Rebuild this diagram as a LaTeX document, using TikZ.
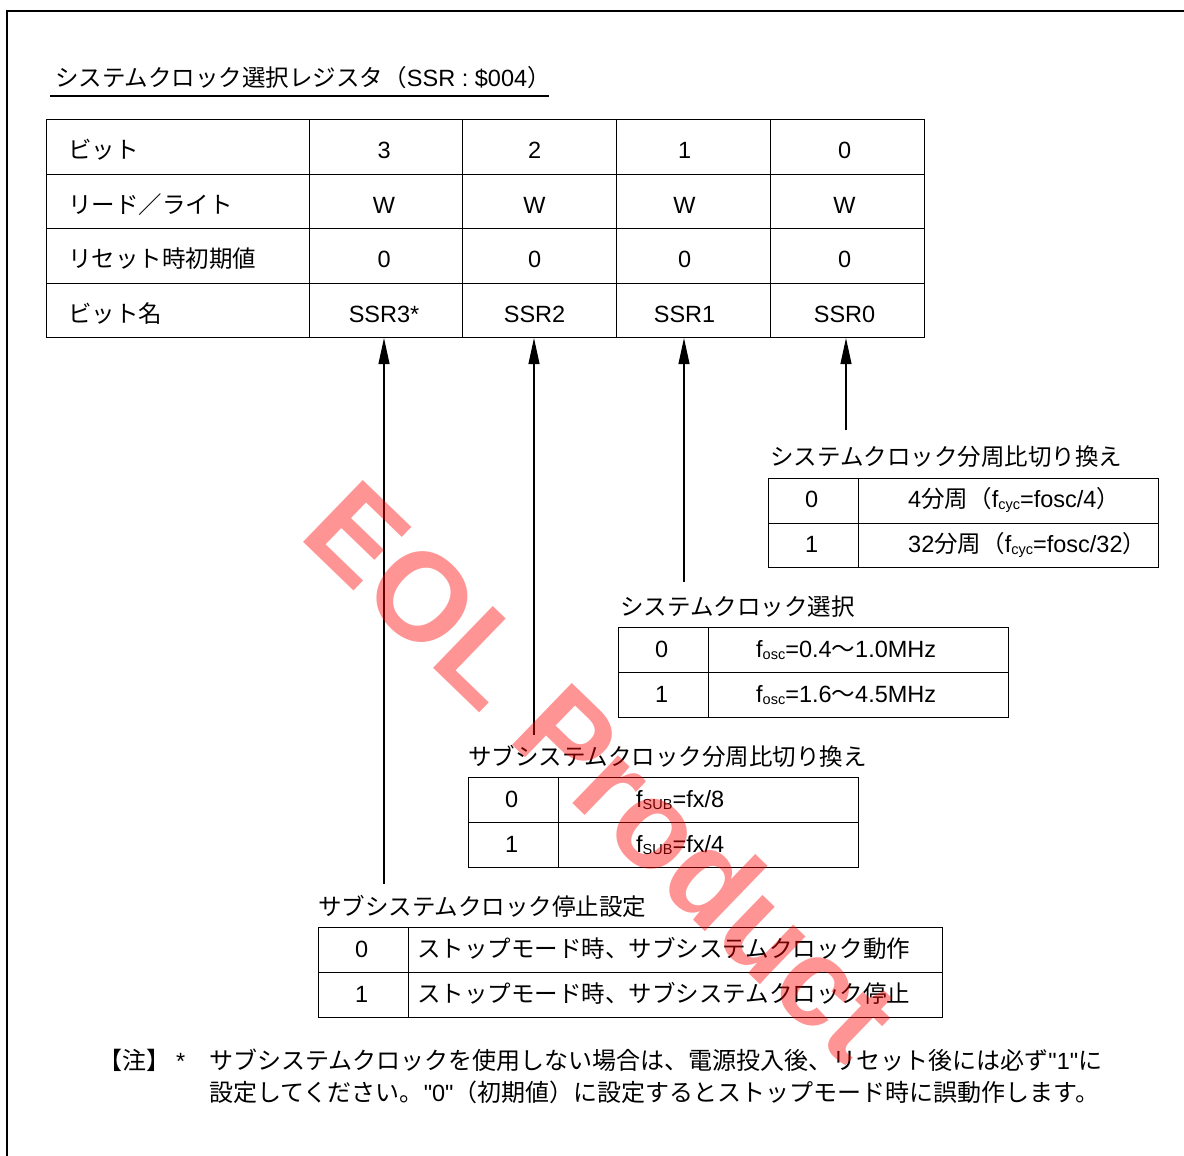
\documentclass[tikz,border=0pt]{standalone}
\usepackage{fontspec}
\setmainfont{Liberation Sans}
\newfontfamily\jpfont{Noto Sans CJK JP}
\newfontfamily\qfont{Liberation Sans}
\usetikzlibrary{arrows.meta}
\newcommand\jt[1]{{\jpfont\fontsize{23.5}{28}\selectfont #1}}
\newcommand\jft[1]{{\jpfont\fontsize{24}{28}\selectfont #1}}
\newcommand\subtx[1]{\raisebox{-2pt}{\fontsize{14.5}{14.5}\selectfont #1}}
\newcommand\qq{{\qfont"}}
\tikzset{
  base/.style={font=\fontsize{23.5}{28}\selectfont, inner sep=0},
  cell/.style={draw, line width=1.1pt, anchor=north west, inner sep=0},
  mtx/.style={base, text height=24pt, text depth=0pt},
  stx/.style={base, text height=14pt, text depth=0pt},
  ttl/.style={base, anchor=base west},
  arr/.style={line width=1.1pt, -{Triangle[length=26pt,width=11pt]}},
  wm/.style={text=red, text opacity=0.42, inner sep=0, rotate=-44,
    font=\bfseries\fontsize{125}{125}\selectfont},
}
\begin{document}
\begin{tikzpicture}[x=1pt,y=-1pt]
\useasboundingbox (0,0) rectangle (1184,1156);
% frame
\coordinate (bl) at (7,1156);
\coordinate (tl) at (7,11);
\coordinate (tr) at (1184,11);
\draw[line width=2.8pt] (bl) -- (tl) -- (tr);
% title
\node[ttl] (title) at (55,87) {\jt{システムクロック選択レジスタ（}SSR : \$004\jt{）}};
\coordinate (ul1) at (50,96);
\coordinate (ul2) at (549,96);
\draw[line width=1.1pt] (ul1) -- (ul2);
% main table
\foreach \r/\y in {1/119,2/173.5,3/228,4/282.5}{
  \node[cell, minimum width=263pt, minimum height=54.5pt] (mL\r) at (46,\y) {};
  \foreach \c/\x/\w in {3/309/153,2/462/154,1/616/154,0/770/154}
    \node[cell, minimum width=\w pt, minimum height=54.5pt] (m\r b\c) at (\x,\y) {};
}
\node[mtx, anchor=west] (lb1) at ([xshift=22pt]mL1.west) {\jt{ビット}};
\node[mtx, anchor=west] (lb2) at ([xshift=22pt]mL2.west) {\jt{リード／ライト}};
\node[mtx, anchor=west] (lb3) at ([xshift=22pt]mL3.west) {\jt{リセット時初期値}};
\node[mtx, anchor=west] (lb4) at ([xshift=22pt]mL4.west) {\jt{ビット名}};
\node[mtx] (v13) at ([xshift=-2pt]m1b3) {3};
\node[mtx] (v12) at ([xshift=-5pt]m1b2) {2};
\node[mtx] (v11) at ([xshift=-9pt]m1b1) {1};
\node[mtx] (v10) at ([xshift=-3pt]m1b0) {0};
\node[mtx] (v23) at ([xshift=-2pt]m2b3) {W};
\node[mtx] (v22) at ([xshift=-5pt]m2b2) {W};
\node[mtx] (v21) at ([xshift=-9pt]m2b1) {W};
\node[mtx] (v20) at ([xshift=-3pt]m2b0) {W};
\node[mtx] (v33) at ([xshift=-2pt]m3b3) {0};
\node[mtx] (v32) at ([xshift=-5pt]m3b2) {0};
\node[mtx] (v31) at ([xshift=-9pt]m3b1) {0};
\node[mtx] (v30) at ([xshift=-3pt]m3b0) {0};
\node[mtx] (v43) at ([xshift=-2pt]m4b3) {SSR3*};
\node[mtx] (v42) at ([xshift=-5pt]m4b2) {SSR2};
\node[mtx] (v41) at ([xshift=-9pt]m4b1) {SSR1};
\node[mtx] (v40) at ([xshift=-3pt]m4b0) {SSR0};
% arrows
\coordinate (s3) at (384,884);
\coordinate (s2) at (534,735);
\coordinate (s1) at (684,582);
\coordinate (s0) at (846,430);
\draw[arr] (s3) -- (s3 |- m4b3.south);
\draw[arr] (s2) -- (s2 |- m4b2.south);
\draw[arr] (s1) -- (s1 |- m4b1.south);
\draw[arr] (s0) -- (s0 |- m4b0.south);
% table A (SSR0)
\node[ttl] (tA) at (770,465) {\jt{システムクロック分周比切り換え}};
\node[cell, minimum width=90pt, minimum height=44.5pt] (A1k) at (768,478) {};
\node[cell, minimum width=300pt, minimum height=44.5pt] (A1v) at (858,478) {};
\node[cell, minimum width=90pt, minimum height=44.5pt] (A2k) at (768,522.5) {};
\node[cell, minimum width=300pt, minimum height=44.5pt] (A2v) at (858,522.5) {};
\node[stx] (A1kt) at ([xshift=-2pt]A1k) {0};
\node[stx] (A2kt) at ([xshift=-2pt]A2k) {1};
\node[stx, anchor=west] (A1vt) at ([xshift=50pt]A1v.west) {4\jt{分周（}f\subtx{cyc}=fosc/4\jt{）}};
\node[stx, anchor=west] (A2vt) at ([xshift=50pt]A2v.west) {32\jt{分周（}f\subtx{cyc}=fosc/32\jt{）}};
% table B (SSR1)
\node[ttl] (tB) at (620,615) {\jt{システムクロック選択}};
\node[cell, minimum width=90pt, minimum height=45pt] (B1k) at (618,627) {};
\node[cell, minimum width=300pt, minimum height=45pt] (B1v) at (708,627) {};
\node[cell, minimum width=90pt, minimum height=45pt] (B2k) at (618,672) {};
\node[cell, minimum width=300pt, minimum height=45pt] (B2v) at (708,672) {};
\node[stx] (B1kt) at ([xshift=-2pt]B1k) {0};
\node[stx] (B2kt) at ([xshift=-2pt]B2k) {1};
\node[stx, anchor=west] (B1vt) at ([xshift=48pt]B1v.west) {f\subtx{osc}=0.4\jt{～}1.0MHz};
\node[stx, anchor=west] (B2vt) at ([xshift=48pt]B2v.west) {f\subtx{osc}=1.6\jt{～}4.5MHz};
% table C (SSR2)
\node[ttl] (tC) at (468,765) {\jt{サブシステムクロック分周比切り換え}};
\node[cell, minimum width=90pt, minimum height=45pt] (C1k) at (468,777) {};
\node[cell, minimum width=300pt, minimum height=45pt] (C1v) at (558,777) {};
\node[cell, minimum width=90pt, minimum height=45pt] (C2k) at (468,822) {};
\node[cell, minimum width=300pt, minimum height=45pt] (C2v) at (558,822) {};
\node[stx] (C1kt) at ([xshift=-2pt]C1k) {0};
\node[stx] (C2kt) at ([xshift=-2pt]C2k) {1};
\node[stx, anchor=west] (C1vt) at ([xshift=78pt]C1v.west) {f\subtx{SUB}=fx/8};
\node[stx, anchor=west] (C2vt) at ([xshift=78pt]C2v.west) {f\subtx{SUB}=fx/4};
% table D (SSR3)
\node[ttl] (tD) at (318,915) {\jt{サブシステムクロック停止設定}};
\node[cell, minimum width=90pt, minimum height=45pt] (D1k) at (318,927) {};
\node[cell, minimum width=534pt, minimum height=45pt] (D1v) at (408,927) {};
\node[cell, minimum width=90pt, minimum height=45pt] (D2k) at (318,972) {};
\node[cell, minimum width=534pt, minimum height=45pt] (D2v) at (408,972) {};
\node[stx] (D1kt) at ([xshift=-2pt]D1k) {0};
\node[stx] (D2kt) at ([xshift=-2pt]D2k) {1};
\node[stx, anchor=west] (D1vt) at ([xshift=9pt]D1v.west) {\jt{ストップモード時、サブシステムクロック動作}};
\node[stx, anchor=west] (D2vt) at ([xshift=9pt]D2v.west) {\jt{ストップモード時、サブシステムクロック停止}};
% footnote
\node[ttl] (n0) at (98,1069) {\jft{【注】}};
\node[ttl] (n1) at (176,1069) {*};
\node[ttl] (n2) at (209,1069) {\jft{サブシステムクロックを使用しない場合は、電源投入後、リセット後には必ず}\qq1\qq\jft{に}};
\node[ttl] (n3) at (209,1101) {\jft{設定してください。}\qq0\qq\jft{（初期値）に設定するとストップモード時に誤動作します。}};
% watermark
\node[wm] (wmark) at (603,770) {EOL Product};
\end{tikzpicture}
\end{document}
